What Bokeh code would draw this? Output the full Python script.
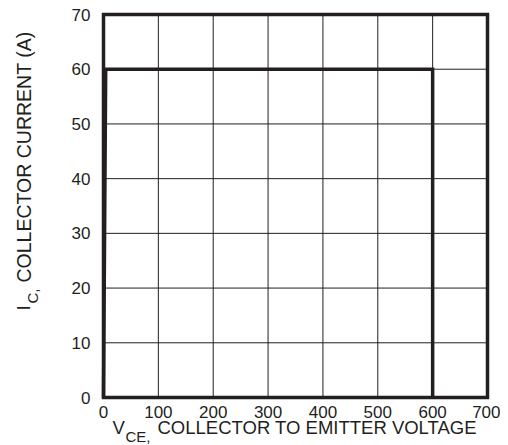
import numpy as np
from bokeh.plotting import figure
from bokeh.models import FixedTicker, Range1d, Label, LinearAxis
from bokeh.embed import file_html
from bokeh.resources import INLINE

# data
vce = [0, 4, 600, 600]
ic = [0, 60, 60, 0]
x_ticks = [0, 100, 200, 300, 400, 500, 600, 700]
y_ticks = [0, 10, 20, 30, 40, 50, 60, 70]

FONT = "Liberation Sans"
INK = "#231f20"
W, H = 500, 445

# pixel geometry of the data box on the canvas
L0, R0, T0, B0 = 103, 487, 14, 397
kx = (R0 - L0) / (x_ticks[-1] - x_ticks[0])
ky = (B0 - T0) / (y_ticks[-1] - y_ticks[0])

p = figure(width=W, height=H, output_backend="svg", toolbar_location=None,
           x_axis_location=None, y_axis_location=None,
           x_range=Range1d(x_ticks[0] - L0 / kx, x_ticks[-1] + (W - R0) / kx),
           y_range=Range1d(y_ticks[0] - (H - B0) / ky, y_ticks[-1] + T0 / ky),
           min_border=0, min_border_left=0, min_border_right=0,
           min_border_top=0, min_border_bottom=0)
p.outline_line_color = None
p.background_fill_color = "white"
p.border_fill_color = "white"
for g in p.grid:
    g.visible = False

xa = LinearAxis(ticker=FixedTicker(ticks=x_ticks), fixed_location=y_ticks[0])
ya = LinearAxis(ticker=FixedTicker(ticks=y_ticks), fixed_location=x_ticks[0])
for ax in (xa, ya):
    ax.axis_line_color = None
    ax.major_tick_line_color = None
    ax.minor_tick_line_color = None
    ax.major_label_text_font = FONT
    ax.major_label_text_font_size = "17px"
    ax.major_label_text_color = INK
xa.major_label_standoff = 2
ya.major_label_standoff = 7
p.add_layout(xa, "below")
p.add_layout(ya, "left")

# grid
p.segment(x0=x_ticks, y0=[y_ticks[0]] * len(x_ticks), x1=x_ticks, y1=[y_ticks[-1]] * len(x_ticks),
          line_color=INK, line_width=1)
p.segment(x0=[x_ticks[0]] * len(y_ticks), y0=y_ticks, x1=[x_ticks[-1]] * len(y_ticks), y1=y_ticks,
          line_color=INK, line_width=1)
# frame
p.quad(left=x_ticks[0], right=x_ticks[-1], bottom=y_ticks[0], top=y_ticks[-1],
       fill_color=None, line_color=INK, line_width=3.5, line_join="miter")

# curve
p.line(vce, ic, line_color=INK, line_width=3.5, line_join="miter")

# axis labels with subscripts
def X(px):
    return x_ticks[0] + (px - L0) / kx

def Y(py):
    return y_ticks[0] + (B0 - py) / ky

lab = dict(text_font=FONT, text_color=INK, text_baseline="alphabetic", text_align="left")

def lbl(px, py, text, size, angle=0.0):
    p.add_layout(Label(x=X(px), y=Y(py), text=text, angle=angle, text_font_size=size, **lab))

lbl(112, 427, "V", "18.5px")
lbl(125, 436, "CE,", "15px")
lbl(157, 427, "COLLECTOR TO EMITTER VOLTAGE", "18.5px")

ang = np.pi / 2
lbl(23, 310, "I", "18.5px", ang)
lbl(32, 303, "C,", "15px", ang)
lbl(23, 282, "COLLECTOR  CURRENT (A)", "19.5px", ang)

open("out.html", "w").write(file_html(p, INLINE))
